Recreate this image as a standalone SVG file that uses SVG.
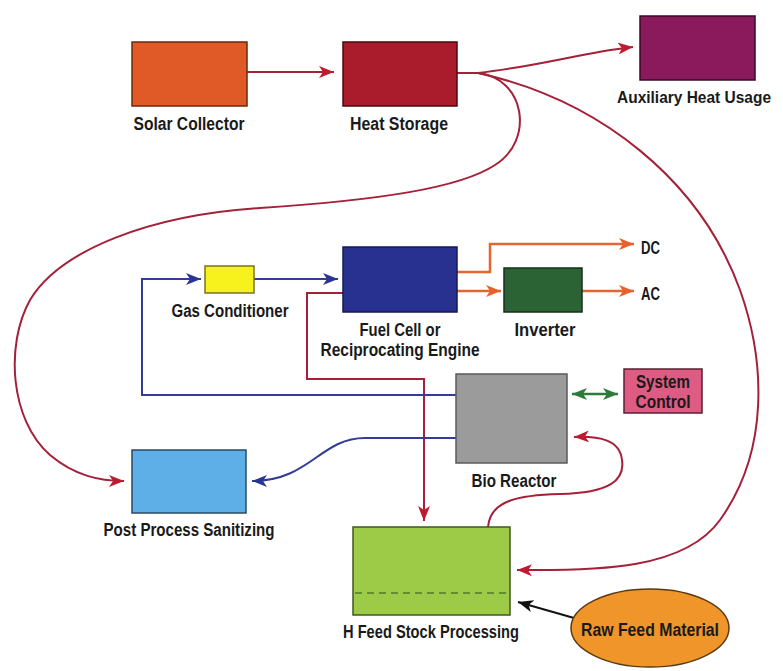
<svg xmlns="http://www.w3.org/2000/svg" width="783" height="671" viewBox="0 0 783 671">
  <style>
    .box { stroke-width: 1.5; }
    .lbl { font-family: "Liberation Sans", "DejaVu Sans", sans-serif; font-weight: bold; font-size: 18px; fill: #1a1a1a; text-anchor: middle; }
    .lbl-l { font-family: "Liberation Sans", "DejaVu Sans", sans-serif; font-weight: bold; font-size: 18px; fill: #1a1a1a; }
    .red { fill: none; stroke: #a52039; stroke-width: 2; marker-end: url(#ahRed); }
    .blue { fill: none; stroke: #333d96; stroke-width: 2; }
    .orange { fill: none; stroke: #e3652f; stroke-width: 2.5; marker-end: url(#ahOrange); }
  </style>
  <defs>
    <marker id="ahRed" viewBox="0 0 15 12" refX="15" refY="6" markerWidth="15" markerHeight="12" markerUnits="userSpaceOnUse" orient="auto">
      <path d="M0,0 L15,6 L0,12 L4,6 Z" fill="#c01a30"/>
    </marker>
    <marker id="ahBlue" viewBox="0 0 15 12" refX="15" refY="6" markerWidth="15" markerHeight="12" markerUnits="userSpaceOnUse" orient="auto">
      <path d="M0,0 L15,6 L0,12 L4,6 Z" fill="#2a3494"/>
    </marker>
    <marker id="ahOrange" viewBox="0 0 15 12" refX="15" refY="6" markerWidth="15" markerHeight="12" markerUnits="userSpaceOnUse" orient="auto">
      <path d="M0,0 L15,6 L0,12 L4,6 Z" fill="#e8612c"/>
    </marker>
    <marker id="ahGreen" viewBox="0 0 15 12" refX="15" refY="6" markerWidth="15" markerHeight="12" markerUnits="userSpaceOnUse" orient="auto-start-reverse">
      <path d="M0,0 L15,6 L0,12 L4,6 Z" fill="#2e7a3a"/>
    </marker>
    <marker id="ahBlack" viewBox="0 0 15 12" refX="15" refY="6" markerWidth="15" markerHeight="12" markerUnits="userSpaceOnUse" orient="auto">
      <path d="M0,0 L15,6 L0,12 L4,6 Z" fill="#111"/>
    </marker>
  </defs>

  <rect width="783" height="671" fill="#ffffff"/>

  <!-- connectors -->
  <g id="connectors">
    <!-- heat loop -->
    <path class="red" d="M247,72 L334,72"/>
    <path class="red" d="M457,73 L478,73 C540,66 585,52 633,47"/>
    <path class="red" d="M478,73 C525,78 535,140 495,165 C460,188 380,200 260,208 C150,215 60,250 30,300 C5,345 10,420 50,455 C75,476 100,481 124,481"/>
    <path class="red" d="M478,73 C600,100 700,180 740,290 C765,360 770,450 720,520 C685,569 600,571 517,570"/>
    <!-- fuel cell heat to feed stock -->
    <path class="red" d="M343,293 L307,293 L307,379 L424,379 L424,521"/>
    <!-- feed stock to bio reactor -->
    <path class="red" d="M488,527 C490,500 520,495 560,494 C610,493 625,480 622,460 C620,440 600,436 574,437"/>
    <!-- gas path -->
    <path class="blue" d="M456,395 L142,395 L142,279 L201,279" marker-end="url(#ahBlue)"/>
    <path class="blue" d="M254,279 L338,279" marker-end="url(#ahBlue)"/>
    <path class="blue" d="M456,438 L365,438 C320,438 310,481 252,481" marker-end="url(#ahBlue)"/>
    <!-- electrical outputs -->
    <path class="orange" d="M457,272 L490,272 L490,244 L634,244"/>
    <path class="orange" d="M457,291 L501,291"/>
    <path class="orange" d="M582,291 L634,291"/>
    <!-- control link -->
    <path d="M572,394 L618,394" fill="none" stroke="#2e7a3a" stroke-width="2.5" marker-start="url(#ahGreen)" marker-end="url(#ahGreen)"/>
    <!-- raw feed input -->
    <path d="M574,618 L518,602" fill="none" stroke="#111" stroke-width="2" marker-end="url(#ahBlack)"/>
  </g>

  <g id="solar-collector">
    <rect class="box" x="132" y="42" width="115" height="64" fill="#e05a27" stroke="#6a2a10"/>
    <text class="lbl" x="189" y="130" textLength="111" lengthAdjust="spacingAndGlyphs">Solar Collector</text>
  </g>

  <g id="heat-storage">
    <rect class="box" x="343" y="42" width="114" height="64" fill="#aa1b2b" stroke="#4a0a10"/>
    <text class="lbl" x="399" y="130" textLength="98" lengthAdjust="spacingAndGlyphs">Heat Storage</text>
  </g>

  <g id="auxiliary-heat">
    <rect class="box" x="640" y="16" width="115" height="64" fill="#8b1a5c" stroke="#3a0a24"/>
    <text class="lbl" x="694" y="103" style="font-size:16.5px" textLength="154" lengthAdjust="spacingAndGlyphs">Auxiliary Heat Usage</text>
  </g>

  <g id="gas-conditioner">
    <rect class="box" x="205" y="266" width="49" height="27" fill="#f7f11e" stroke="#7a7420"/>
    <text class="lbl" x="230" y="317" textLength="117" lengthAdjust="spacingAndGlyphs">Gas Conditioner</text>
  </g>

  <g id="fuel-cell">
    <rect class="box" x="343" y="247" width="114" height="65" fill="#28318f" stroke="#141a50"/>
    <text class="lbl" x="400" y="336" textLength="81" lengthAdjust="spacingAndGlyphs">Fuel Cell or</text>
    <text class="lbl" x="400" y="356" textLength="159" lengthAdjust="spacingAndGlyphs">Reciprocating Engine</text>
  </g>

  <g id="inverter">
    <rect class="box" x="504" y="268" width="78" height="44" fill="#2c6334" stroke="#143018"/>
    <text class="lbl" x="545" y="336" textLength="61" lengthAdjust="spacingAndGlyphs">Inverter</text>
  </g>

  <g id="dc-output">
    <text class="lbl-l" x="641" y="254" textLength="19" lengthAdjust="spacingAndGlyphs">DC</text>
  </g>

  <g id="ac-output">
    <text class="lbl-l" x="641" y="300" textLength="19" lengthAdjust="spacingAndGlyphs">AC</text>
  </g>

  <g id="bio-reactor">
    <rect class="box" x="456" y="374" width="111" height="89" fill="#9b9b9b" stroke="#5a5a5a"/>
    <text class="lbl" x="514" y="487" textLength="85" lengthAdjust="spacingAndGlyphs">Bio Reactor</text>
  </g>

  <g id="system-control">
    <rect class="box" x="624" y="369" width="78" height="44" fill="#de5b84" stroke="#5a2030"/>
    <text class="lbl" x="663" y="388" textLength="54" lengthAdjust="spacingAndGlyphs">System</text>
    <text class="lbl" x="663" y="408" textLength="55" lengthAdjust="spacingAndGlyphs">Control</text>
  </g>

  <g id="post-process">
    <rect class="box" x="132" y="450" width="114" height="63" fill="#5eaee8" stroke="#2a4a60"/>
    <text class="lbl" x="189" y="536" textLength="171" lengthAdjust="spacingAndGlyphs">Post Process Sanitizing</text>
  </g>

  <g id="feed-stock">
    <rect class="box" x="353" y="527" width="157" height="88" fill="#9dcb48" stroke="#3e5a20"/>
    <line x1="355" y1="593" x2="508" y2="593" stroke="#4f7a30" stroke-width="1.5" stroke-dasharray="7,5"/>
    <text class="lbl" x="431" y="638" textLength="176" lengthAdjust="spacingAndGlyphs">H Feed Stock Processing</text>
  </g>

  <g id="raw-feed">
    <ellipse cx="650" cy="628" rx="79" ry="39" fill="#f0952a" stroke="#5a3a10" stroke-width="1.5"/>
    <text class="lbl" x="650" y="636" textLength="138" lengthAdjust="spacingAndGlyphs">Raw Feed Material</text>
  </g>
</svg>
